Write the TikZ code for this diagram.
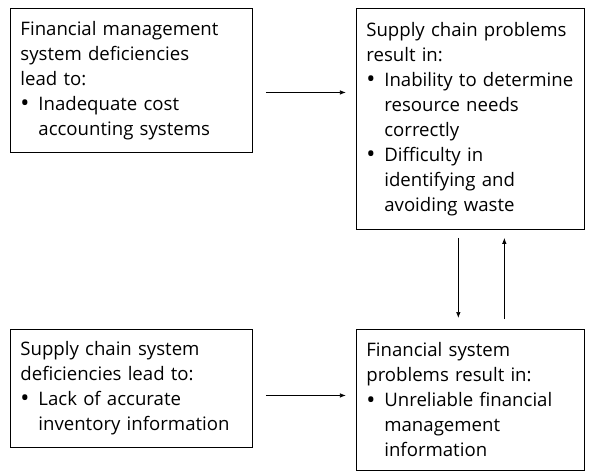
\documentclass[tikz,border=0pt]{standalone}
\usepackage{fontspec}
\setmainfont{Open Sans}
\usepackage{graphicx}
\usepackage{tikz}
\usetikzlibrary{positioning}
\usetikzlibrary{arrows.meta}

\hyphenpenalty=10000
\newcommand{\hitem}{\makebox[18pt][l]{\raisebox{-0.12ex}{\scalebox{1.3}{\textbullet}}}}
\newcommand{\hind}{\hspace*{18pt}}

\tikzset{
  box/.style={draw, line width=0.9pt, align=left,
    inner xsep=10pt, inner ysep=4pt,
    font=\fontsize{18.6}{25}\selectfont},
  link/.style={-{Latex[length=6pt,width=4.5pt]}, line width=0.7pt}
}

\begin{document}
\begin{tikzpicture}[x=1pt,y=1pt]
\useasboundingbox (0,0) rectangle (590,-472);
\node[box, text width=222pt, minimum height=144pt, anchor=north west] (fm) at (10,-8) {Financial management\\ system deficiencies\\ lead to:\\ \hitem Inadequate cost\\ \hind accounting systems};
\node[box, text width=208pt, minimum height=221pt, right=103pt of fm.north east, anchor=north west] (sc) {Supply chain problems\\ result in:\\ \hitem Inability to determine\\ \hind resource needs\\ \hind correctly\\ \hitem Difficulty in\\ \hind identifying and\\ \hind avoiding waste};
\node[box, text width=222pt, minimum height=118pt, below=321pt of fm.north west, anchor=north west] (scs) {Supply chain system\\ deficiencies lead to:\\ \hitem Lack of accurate\\ \hind inventory information};
\node[box, text width=208pt, minimum height=141pt, right=103pt of scs.north east, anchor=north west] (fs) {Financial system\\ problems result in:\\ \hitem Unreliable financial\\ \hind management\\ \hind information};
\coordinate (a1) at ([xshift=13pt,yshift=-12pt]fm.east);
\coordinate (a2) at ([xshift=-10pt]sc.west |- a1);
\coordinate (b1) at ([xshift=13pt,yshift=-7pt]scs.east);
\coordinate (b2) at ([xshift=-10pt]fs.west |- b1);
\draw[link] (a1) -- (a2);
\draw[link] (b1) -- (b2);
\draw[link] ([xshift=-12pt,yshift=-8pt]sc.south) -- ([xshift=-12pt,yshift=11pt]fs.north);
\draw[link] ([xshift=34pt,yshift=10pt]fs.north) -- ([xshift=34pt,yshift=-8pt]sc.south);
\end{tikzpicture}
\end{document}
